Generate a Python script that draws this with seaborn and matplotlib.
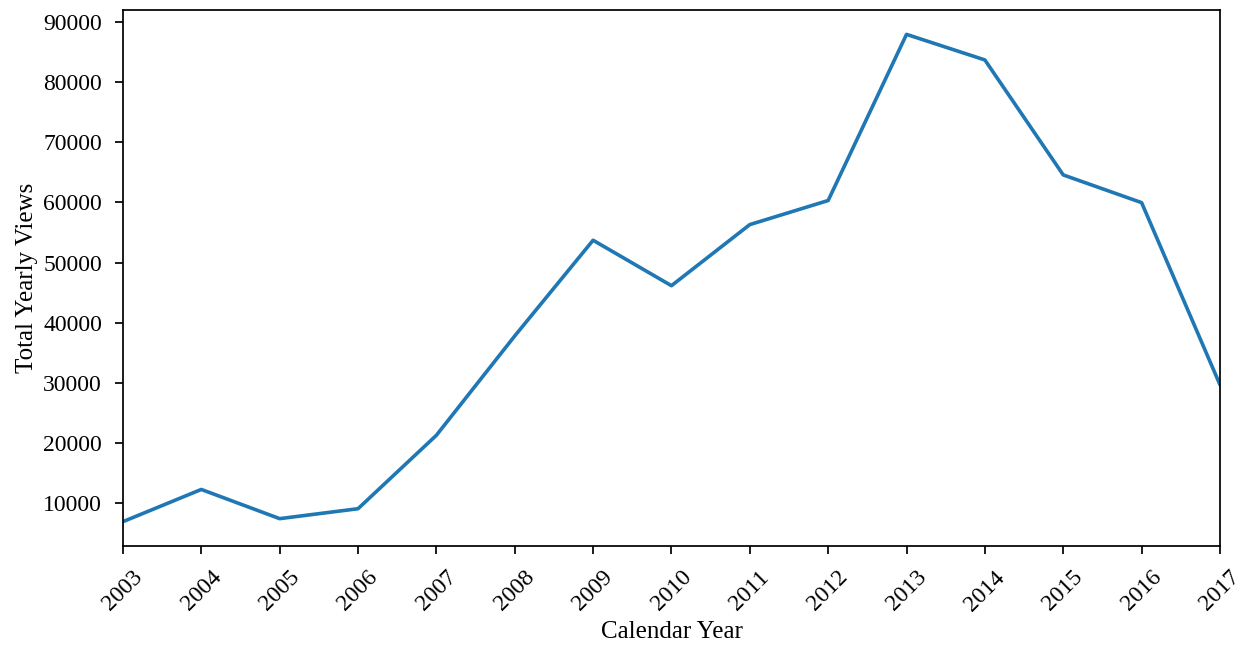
import matplotlib
matplotlib.use("Agg")
import matplotlib.pyplot as plt
import seaborn as sns
import pandas as pd

years = [2003, 2004, 2005, 2006, 2007, 2008, 2009, 2010,
         2011, 2012, 2013, 2014, 2015, 2016, 2017]
views = [6950, 12300, 7450, 9100, 21300, 37800, 53700, 46150,
         56300, 60300, 87900, 83650, 64550, 59950, 29700]

df = pd.DataFrame({"Calendar Year": years, "Total Yearly Views": views})

sns.set_theme(style="ticks")
plt.rcParams["font.family"] = ["Liberation Serif", "DejaVu Serif"]
plt.rcParams.update({
    "axes.linewidth": 1.25,
    "xtick.major.width": 1.25,
    "ytick.major.width": 1.25,
    "xtick.major.size": 6,
    "ytick.major.size": 6,
    "xtick.major.pad": 9,
    "ytick.major.pad": 9,
    "text.color": "black",
    "axes.labelcolor": "black",
    "xtick.color": "black",
    "ytick.color": "black",
    "axes.edgecolor": "black",
})

fig, ax = plt.subplots(figsize=(12.52, 6.54), dpi=100)
fig.subplots_adjust(left=0.0982, right=0.9744, top=0.9847, bottom=0.1651)

sns.lineplot(data=df, x="Calendar Year", y="Total Yearly Views",
             color="#1f77b4", linewidth=2.6, ax=ax)

ax.set_xlim(years[0], years[-1])
ax.set_xticks(years)
ax.set_xticklabels([str(y) for y in years], rotation=45, fontsize=17)
ax.tick_params(axis="y", labelsize=17)
ax.set_xlabel("Calendar Year", fontsize=18)
ax.set_ylabel("Total Yearly Views", fontsize=18)
for s in ax.spines.values():
    s.set_visible(True)

fig.savefig("out.png", dpi=100)
